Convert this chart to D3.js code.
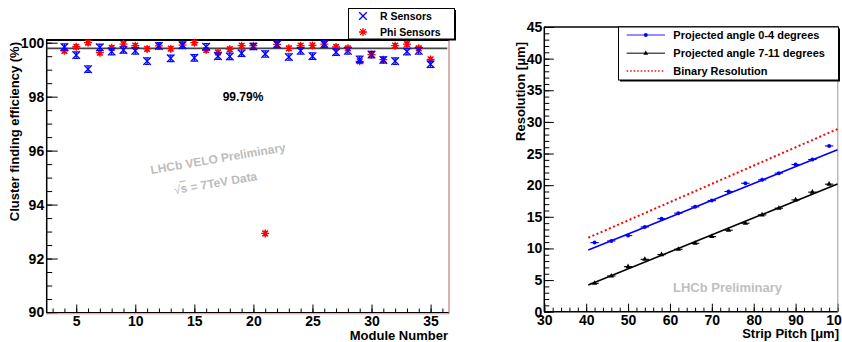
<!DOCTYPE html>
<html>
<head>
<meta charset="utf-8">
<script src="https://cdn.jsdelivr.net/npm/d3@7"></script>
<style>
  html, body { margin: 0; padding: 0; background: #fff; }
  svg { display: block; font-family: "Liberation Sans", Arial, sans-serif; font-weight: bold; }
</style>
</head>
<body>
<svg id="chart" width="842" height="342"></svg>
<script>
// left panel: cluster finding efficiency per module
const modules = d3.range(4, 36);
const rEff = [99.84, 99.54, 99.02, 99.83, 99.67, 99.73, 99.70, 99.32, 99.88, 99.42, 99.91, 99.44, 99.85, 99.50,
  99.49, 99.61, 99.86, 99.58, 99.94, 99.47, 99.70, 99.50, 99.95, 99.65, 99.70, 99.38, 99.56, 99.36, 99.32, 99.67, 99.70, 99.20];
const phiEff = [99.70, 99.85, 100.0, 99.63, 99.81, 99.95, 99.89, 99.77, 99.88, 99.78, 99.91, 100.0, 99.73, 99.64,
  99.76, 99.89, 99.89, 92.93, 99.94, 99.79, 99.89, 99.90, 99.95, 99.84, 99.79, 99.31, 99.56, 99.37, 99.89, 99.95, 99.79, 99.38];
const rErr = 0.12, phiErr = 0.08;
const meanEff = 99.79;

// right panel: resolution vs strip pitch
const pitch = [42, 46, 50, 54, 58, 62, 66, 70, 74, 78, 82, 86, 90, 94, 98];
const res04 = [10.92, 11.19, 12.03, 13.4, 14.7, 15.57, 16.57, 17.56, 19.0, 20.3, 20.84, 21.9, 23.26, 24.05, 26.2];
const res711 = [4.49, 5.65, 7.12, 8.28, 9.02, 9.87, 10.82, 11.87, 12.88, 13.99, 15.3, 16.36, 17.67, 18.9, 20.16];
const pitchErr = 1;
const fit04 = [[40.5, 9.76], [100, 25.6]];
const fit711 = [[40.5, 4.22], [100, 20.2]];
const binaryRes = [[40.5, 11.69], [100, 28.87]];

const svg = d3.select('#chart');

// scales
const xL = d3.scaleLinear().domain([2.5, 36.5]).range([46.7, 448.3]);
const yL = d3.scaleLinear().domain([90, 100.1]).range([312.5, 40]);
const xR = d3.scaleLinear().domain([30, 100]).range([544.3, 837.5]);
const yR = d3.scaleLinear().domain([0, 45]).range([311.7, 27]);

function styleAxis(g, size) {
  g.select('.domain').remove();
  g.selectAll('.tick line').attr('stroke', '#000').attr('stroke-width', 1);
  g.selectAll('.tick text').attr('fill', '#000')
    .style('font-size', size + 'px').style('font-weight', 'bold')
    .style('font-family', '"Liberation Sans", Arial, sans-serif');
}

// ---------- left panel ----------
const left = svg.append('g');

left.append('g').attr('transform', 'translate(46.7,0)')
  .call(d3.axisLeft(yL).tickValues(d3.range(90, 100.01, 0.5)).tickSize(-5.5).tickFormat(''))
  .call(g => styleAxis(g, 14));
left.append('g').attr('transform', 'translate(46.7,0)')
  .call(d3.axisLeft(yL).tickValues(d3.range(90, 101, 2)).tickSize(-11).tickPadding(2.5).tickFormat(d3.format('d')))
  .call(g => styleAxis(g, 14));
left.append('g').attr('transform', 'translate(0,312.5)')
  .call(d3.axisBottom(xL).tickValues(d3.range(3, 37, 1)).tickSize(-4).tickFormat(''))
  .call(g => styleAxis(g, 14));
left.append('g').attr('transform', 'translate(0,312.5)')
  .call(d3.axisBottom(xL).tickValues(d3.range(5, 36, 5)).tickSize(-8).tickPadding(3.5).tickFormat(d3.format('d')))
  .call(g => styleAxis(g, 14));

// frame
left.append('line').attr('x1', 46.7).attr('x2', 46.7).attr('y1', 40).attr('y2', 312.5).attr('stroke', '#000').attr('stroke-width', 1.5);
left.append('line').attr('x1', 46).attr('x2', 449).attr('y1', 40).attr('y2', 40).attr('stroke', '#000').attr('stroke-width', 2);
left.append('line').attr('x1', 46).attr('x2', 449).attr('y1', 312.5).attr('y2', 312.5).attr('stroke', '#000').attr('stroke-width', 1.2);
left.append('line').attr('x1', 46).attr('x2', 449).attr('y1', 313.8).attr('y2', 313.8).attr('stroke', '#e08a8a').attr('stroke-width', 1);
left.append('line').attr('x1', 449).attr('x2', 449).attr('y1', 40).attr('y2', 313.8).attr('stroke', '#b06464').attr('stroke-width', 1);

// mean line
left.append('line')
  .attr('x1', xL(2.5)).attr('x2', xL(36.5) - 1)
  .attr('y1', yL(meanEff)).attr('y2', yL(meanEff))
  .attr('stroke', '#444').attr('stroke-width', 1.6);

function drawCross(g, cx, cy, s, color) {
  g.append('path')
    .attr('d', `M${cx - s},${cy - s}L${cx + s},${cy + s}M${cx - s},${cy + s}L${cx + s},${cy - s}`)
    .attr('stroke', color).attr('stroke-width', 1.3).attr('fill', 'none');
}
function drawStar(g, cx, cy, s, color) {
  const d = s * 0.72;
  g.append('path')
    .attr('d', `M${cx - s},${cy}L${cx + s},${cy}M${cx},${cy - s}L${cx},${cy + s}` +
      `M${cx - d},${cy - d}L${cx + d},${cy + d}M${cx - d},${cy + d}L${cx + d},${cy - d}`)
    .attr('stroke', color).attr('stroke-width', 1.3).attr('fill', 'none');
}
function drawErr(g, cx, y1, y2, w, color) {
  g.append('path')
    .attr('d', `M${cx},${y1}L${cx},${y2}M${cx - w},${y1}L${cx + w},${y1}M${cx - w},${y2}L${cx + w},${y2}`)
    .attr('stroke', color).attr('stroke-width', 1.2).attr('fill', 'none');
}

const ptsPhi = left.append('g');
modules.forEach((m, i) => {
  const cx = xL(m), cy = yL(phiEff[i]);
  drawErr(ptsPhi, cx, yL(phiEff[i] + phiErr), yL(phiEff[i] - phiErr), 2.5, '#ff0000');
  drawStar(ptsPhi, cx, cy, 4, '#ff0000');
});
const ptsR = left.append('g');
modules.forEach((m, i) => {
  const cx = xL(m), cy = yL(rEff[i]);
  drawErr(ptsR, cx, yL(rEff[i] + rErr), yL(rEff[i] - rErr), 2.5, '#0000ff');
  drawCross(ptsR, cx, cy, 3.8, '#0000ff');
});

// annotations
left.append('text').attr('x', 243).attr('y', 101).attr('text-anchor', 'middle')
  .style('font-size', '12px').text('99.79%');
left.append('text').attr('transform', 'translate(218,158.5) rotate(-9.7)')
  .attr('text-anchor', 'middle').attr('dy', '0.35em').attr('fill', '#bcbcbc')
  .style('font-size', '12px').text('LHCb VELO Preliminary');
const sq = left.append('text').attr('transform', 'translate(215.5,183) rotate(-9.7)')
  .attr('text-anchor', 'middle').attr('dy', '0.35em').attr('fill', '#bcbcbc')
  .style('font-size', '12px');
sq.append('tspan').style('font-weight', 'normal').text('\u221A');
sq.append('tspan').style('text-decoration', 'overline').text('s');
sq.append('tspan').text(' = 7TeV Data');

// axis titles
left.append('text').attr('transform', 'translate(18.5,42) rotate(-90)')
  .attr('text-anchor', 'end').style('font-size', '13px').text('Cluster finding efficiency (%)');
left.append('text').attr('x', 448).attr('y', 339.5).attr('text-anchor', 'end')
  .style('font-size', '13px').text('Module Number');

// legend
const legL = left.append('g');
legL.append('rect').attr('x', 350).attr('y', 10).attr('width', 106).attr('height', 30.5).attr('fill', '#000');
legL.append('rect').attr('x', 348.5).attr('y', 8.5).attr('width', 106).attr('height', 30.5)
  .attr('fill', '#fff').attr('stroke', '#000').attr('stroke-width', 1);
drawCross(legL, 363, 16, 3.8, '#0000ff');
drawStar(legL, 363, 32, 4, '#ff0000');
legL.append('text').attr('x', 380).attr('y', 20).style('font-size', '10.5px').text('R Sensors');
legL.append('text').attr('x', 380).attr('y', 36).style('font-size', '10.5px').text('Phi Sensors');

// ---------- right panel ----------
const right = svg.append('g');

right.append('g').attr('transform', 'translate(544.3,0)')
  .call(d3.axisLeft(yR).tickValues(d3.range(0, 46, 1)).tickSize(-5).tickFormat(''))
  .call(g => styleAxis(g, 14));
right.append('g').attr('transform', 'translate(544.3,0)')
  .call(d3.axisLeft(yR).tickValues(d3.range(0, 46, 5)).tickSize(-9.5).tickPadding(2).tickFormat(d3.format('d')))
  .call(g => styleAxis(g, 14));
right.append('g').attr('transform', 'translate(0,311.7)')
  .call(d3.axisBottom(xR).tickValues(d3.range(30, 101, 2)).tickSize(-4).tickFormat(''))
  .call(g => styleAxis(g, 14));
right.append('g').attr('transform', 'translate(0,311.7)')
  .call(d3.axisBottom(xR).tickValues(d3.range(30, 101, 10)).tickSize(-8).tickPadding(3).tickFormat(d3.format('d')))
  .call(g => styleAxis(g, 14));

right.append('line').attr('x1', 544.3).attr('x2', 544.3).attr('y1', 27).attr('y2', 311.7).attr('stroke', '#000').attr('stroke-width', 1.5);
right.append('line').attr('x1', 544).attr('x2', 838).attr('y1', 27).attr('y2', 27).attr('stroke', '#000').attr('stroke-width', 1.5);
right.append('line').attr('x1', 544).attr('x2', 838).attr('y1', 311.7).attr('y2', 311.7).attr('stroke', '#000').attr('stroke-width', 1.5);
right.append('line').attr('x1', 837.8).attr('x2', 837.8).attr('y1', 27).attr('y2', 311.7).attr('stroke', '#999').attr('stroke-width', 1);

const line = d3.line().x(d => xR(d[0])).y(d => yR(d[1]));

right.append('path').datum(binaryRes).attr('d', line).attr('fill', 'none')
  .attr('stroke', '#ff0000').attr('stroke-width', 2).attr('stroke-dasharray', '2,2.5');
right.append('path').datum(fit04).attr('d', line).attr('fill', 'none')
  .attr('stroke', '#0000ff').attr('stroke-width', 1.6);
right.append('path').datum(fit711).attr('d', line).attr('fill', 'none')
  .attr('stroke', '#000').attr('stroke-width', 1.6);

pitch.forEach((p, i) => {
  const cy = yR(res04[i]);
  right.append('line').attr('x1', xR(p - pitchErr)).attr('x2', xR(p + pitchErr))
    .attr('y1', cy).attr('y2', cy).attr('stroke', '#0000ff').attr('stroke-width', 1.1);
  right.append('circle').attr('cx', xR(p)).attr('cy', cy).attr('r', 2).attr('fill', '#0000ff');

  const cy2 = yR(res711[i]);
  right.append('line').attr('x1', xR(p - pitchErr)).attr('x2', xR(p + pitchErr))
    .attr('y1', cy2).attr('y2', cy2).attr('stroke', '#000').attr('stroke-width', 1.1);
  right.append('path')
    .attr('d', d3.symbol(d3.symbolTriangle, 12)())
    .attr('transform', `translate(${xR(p)},${cy2})`).attr('fill', '#000');
});

right.append('text').attr('x', 673).attr('y', 292).attr('fill', '#c0c0c0')
  .style('font-size', '13px').text('LHCb Preliminary');

right.append('text').attr('transform', 'translate(524.5,42) rotate(-90)')
  .attr('text-anchor', 'end').style('font-size', '13px').text('Resolution [\u03BCm]');
right.append('text').attr('x', 839).attr('y', 337.5).attr('text-anchor', 'end')
  .style('font-size', '13px').text('Strip Pitch [\u03BCm]');

// legend
const legR = right.append('g');
legR.append('rect').attr('x', 620).attr('y', 28.5).attr('width', 220).attr('height', 53).attr('fill', '#000');
legR.append('rect').attr('x', 618.5).attr('y', 27).attr('width', 220).attr('height', 53)
  .attr('fill', '#fff').attr('stroke', '#000').attr('stroke-width', 1);
legR.append('line').attr('x1', 626.7).attr('x2', 665).attr('y1', 35).attr('y2', 35)
  .attr('stroke', '#6a6aff').attr('stroke-width', 1.6);
legR.append('circle').attr('cx', 645.8).attr('cy', 35).attr('r', 2).attr('fill', '#0000ff');
legR.append('line').attr('x1', 626.7).attr('x2', 665).attr('y1', 53.3).attr('y2', 53.3)
  .attr('stroke', '#555').attr('stroke-width', 1.4);
legR.append('path').attr('d', d3.symbol(d3.symbolTriangle, 10)())
  .attr('transform', 'translate(645.8,53.3)').attr('fill', '#000');
legR.append('line').attr('x1', 626.7).attr('x2', 665).attr('y1', 71).attr('y2', 71)
  .attr('stroke', '#ff0000').attr('stroke-width', 1.5).attr('stroke-dasharray', '1.5,2');
legR.append('text').attr('x', 673.3).attr('y', 39).style('font-size', '11px').text('Projected angle 0-4 degrees');
legR.append('text').attr('x', 673.3).attr('y', 57.3).style('font-size', '11px').text('Projected angle 7-11 degrees');
legR.append('text').attr('x', 673.3).attr('y', 75).style('font-size', '11px').text('Binary Resolution');
</script>
</body>
</html>
